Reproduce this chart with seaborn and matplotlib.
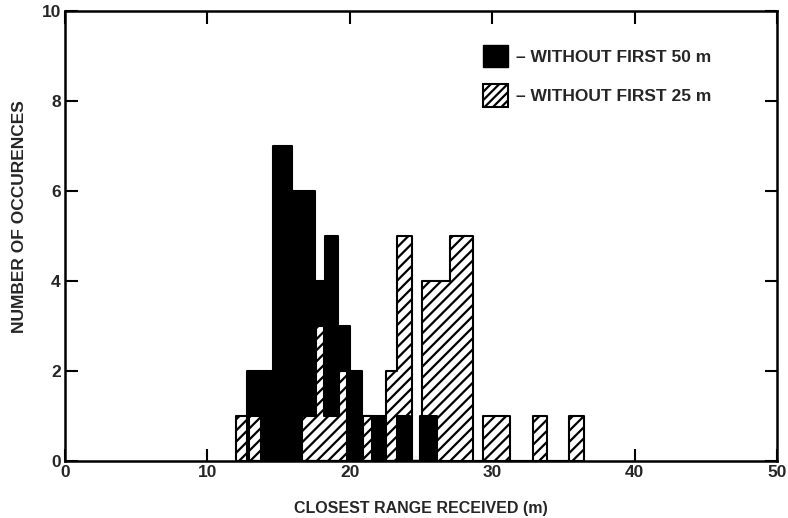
import numpy as np
import pandas as pd
import matplotlib
matplotlib.use("Agg")
import matplotlib.pyplot as plt
from matplotlib.patches import Patch
import seaborn as sns

# ---- data (bin edges in m, counts) ----
black_edges = [12.76, 14.6, 15.92, 17.56, 18.26, 19.19, 20.01, 20.84, 22.47,
               23.29, 24.23, 24.93, 26.1]
black_counts = [2, 7, 6, 4, 5, 3, 2, 1, 0, 1, 0, 1]

hatch_edges = [12.0, 12.8, 12.94, 13.74, 16.62, 17.6, 18.19, 19.24, 19.78,
               20.93, 21.54, 22.53, 23.35, 24.4, 25.05, 27.04, 28.67, 29.37,
               31.25, 32.84, 33.87, 35.41, 36.45]
hatch_counts = [1, 0, 1, 0, 1, 3, 1, 2, 0, 1, 0, 2, 5, 0, 4, 5, 0, 1, 0, 1,
                0, 1]

label_black = "– WITHOUT FIRST 50 m"
label_hatch = "– WITHOUT FIRST 25 m"
x_label = "CLOSEST RANGE RECEIVED (m)"
y_label = "NUMBER OF OCCURENCES"
x_ticks = [0, 10, 20, 30, 40, 50]
y_ticks = [0, 2, 4, 6, 8, 10]

# ---- style ----
sns.set_theme(style="white")
plt.rcParams["font.family"] = ["Liberation Sans", "DejaVu Sans"]
plt.rcParams["font.weight"] = "bold"
plt.rcParams["hatch.linewidth"] = 1.6
plt.rcParams["hatch.color"] = "black"

fig = plt.figure(figsize=(7.88, 5.18), dpi=100)
ax = fig.add_axes([0.0825, 0.110, 0.9035, 0.869])

be = np.array(black_edges)
bc = np.array(black_counts, dtype=float)
he = np.array(hatch_edges)
hc = np.array(hatch_counts, dtype=float)
bmid = (be[:-1] + be[1:]) / 2
hmid = (he[:-1] + he[1:]) / 2

# the shorter bar of each overlap is drawn in front
idx = np.clip(np.searchsorted(he, bmid) - 1, 0, len(hc) - 1)
inside = (bmid >= he[0]) & (bmid <= he[-1])
h_at_b = np.where(inside, hc[idx], 0)
front = bc < h_at_b
bc_back = np.where(front, 0, bc)
bc_front = np.where(front, bc, 0)

df_b = pd.DataFrame({"x": bmid, "back": bc_back, "front": bc_front})
df_h = pd.DataFrame({"x": hmid, "w": hc})

common = dict(element="step", fill=True, stat="count", alpha=1,
              linewidth=1.5, edgecolor="black")
sns.histplot(data=df_b, x="x", weights="back", bins=list(black_edges), ax=ax,
             facecolor="black", zorder=2, **common)
sns.histplot(data=df_h, x="x", weights="w", bins=list(hatch_edges), ax=ax,
             facecolor="white", hatch="///", zorder=3, **common)
if bc_front.any():
    sns.histplot(data=df_b, x="x", weights="front", bins=list(black_edges),
                 ax=ax, facecolor="black", zorder=4, **common)

ax.set_xlim(0, 50)
ax.set_ylim(0, 10)
ax.set_xticks(x_ticks)
ax.set_yticks(y_ticks)
ax.tick_params(axis="both", which="both", direction="in", length=9,
               width=1.5, color="black", labelsize=12.5, pad=3,
               top=True, right=True, bottom=True, left=True)
for lab in ax.get_xticklabels() + ax.get_yticklabels():
    lab.set_fontweight("bold")
for s in ax.spines.values():
    s.set_visible(True)
    s.set_color("black")
    s.set_linewidth(1.8)

ax.set_xlabel(x_label, fontsize=11.5, fontweight="bold", labelpad=15)
ax.set_ylabel(y_label, fontsize=12.5, fontweight="bold")
ax.yaxis.set_label_coords(-0.054, 0.544)
ax.grid(False)

handles = [Patch(facecolor="black", edgecolor="black"),
           Patch(facecolor="white", edgecolor="black", hatch="////",
                 linewidth=1.5)]
ax.legend(handles, [label_black, label_hatch], loc="upper left",
          bbox_to_anchor=(0.613, 0.913), bbox_transform=fig.transFigure,
          frameon=False, borderpad=0, borderaxespad=0,
          handlelength=1.45, handleheight=1.6,
          handletextpad=0.45, labelspacing=0.98,
          prop={"size": 12.5, "weight": "bold"})

fig.savefig("out.png", dpi=100)
